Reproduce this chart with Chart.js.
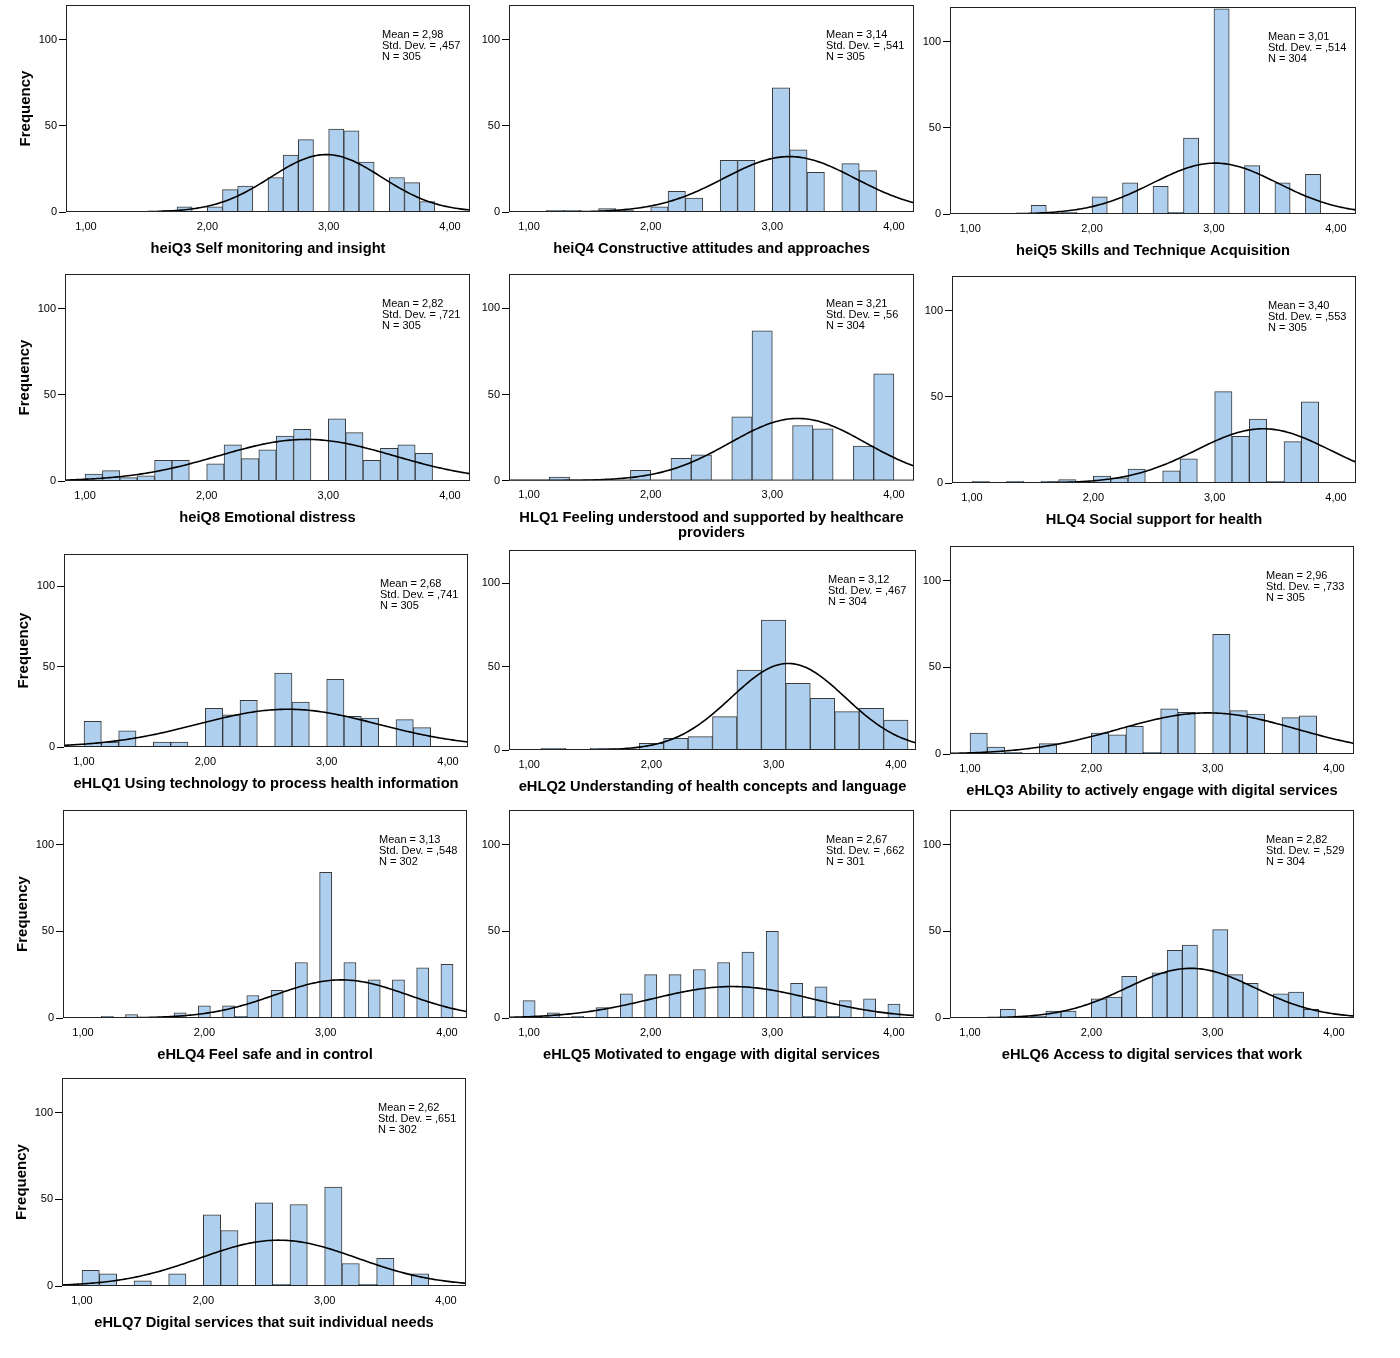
<!DOCTYPE html>
<html>
<head>
<meta charset="utf-8">
<script src="https://cdn.jsdelivr.net/npm/chart.js@4.4.1/dist/chart.umd.min.js"></script>
<style>
  html, body { margin: 0; padding: 0; background: #fff; }
  body { width: 1400px; height: 1358px; position: relative; overflow: hidden; }
  .panel { position: absolute; }
</style>
</head>
<body>
<script>
// Variables shown, one histogram each
const titles = [
  "heiQ3 Self monitoring and insight",
  "heiQ4 Constructive attitudes and approaches",
  "heiQ5 Skills and Technique Acquisition",
  "heiQ8 Emotional distress",
  ["HLQ1 Feeling understood and supported by healthcare", "providers"],
  "HLQ4 Social support for health",
  "eHLQ1 Using technology to process health information",
  "eHLQ2 Understanding of health concepts and language",
  "eHLQ3 Ability to actively engage with digital services",
  "eHLQ4 Feel safe and in control",
  "eHLQ5 Motivated to engage with digital services",
  "eHLQ6 Access to digital services that work",
  "eHLQ7 Digital services that suit individual needs"
];

// Descriptives printed in each panel
const means   = [2.98, 3.14, 3.01, 2.82, 3.21, 3.40, 2.68, 3.12, 2.96, 3.13, 2.67, 2.82, 2.62];
const stdDevs = [0.457, 0.541, 0.514, 0.721, 0.56, 0.553, 0.741, 0.467, 0.733, 0.548, 0.662, 0.529, 0.651];
const ns      = [305, 305, 304, 305, 304, 305, 305, 304, 305, 302, 301, 304, 302];

// Histogram bins: left edge of the first bin and bin width
const binStarts = [1.625, 1.142857, 1.5, 1.0, 1.166667, 1.0, 1.0, 1.1, 1.0, 1.15, 0.95, 1.25, 1.0];
const binWidths = [1/8, 1/7, 1/8, 1/7, 1/6, 1/7, 1/7, 0.2, 1/7, 0.1, 0.1, 1/8, 1/7];

// Frequencies per bin
const heiQ3Counts = [1, 3, 0, 3, 13, 15, 0, 20, 33, 42, 0, 48, 47, 29, 0, 20, 17, 6];
const heiQ4Counts = [1, 1, 0, 2, 1, 0, 3, 12, 8, 0, 30, 30, 0, 72, 36, 23, 0, 28, 24];
const heiQ5Counts = [5, 0, 1, 0, 10, 0, 18, 0, 16, 1, 44, 0, 119, 0, 28, 0, 18, 0, 23];
const heiQ8Counts = [4, 6, 2, 3, 12, 12, 0, 10, 21, 13, 18, 26, 30, 0, 36, 28, 12, 19, 21, 16];
const hlq1Counts  = [2, 0, 0, 0, 6, 0, 13, 15, 0, 37, 87, 0, 32, 30, 0, 20, 62];
const hlq4Counts  = [1, 0, 1, 0, 1, 2, 0, 4, 3, 8, 0, 7, 14, 0, 53, 27, 37, 1, 24, 47];
const ehlq1Counts = [16, 3, 10, 0, 3, 3, 0, 24, 20, 29, 0, 46, 28, 0, 42, 19, 18, 0, 17, 12];
const ehlq2Counts = [1, 0, 1, 0, 4, 7, 8, 20, 48, 78, 40, 31, 23, 25, 18];
const ehlq3Counts = [12, 4, 1, 0, 6, 0, 0, 12, 11, 16, 1, 26, 24, 0, 69, 25, 23, 0, 21, 22];
const ehlq4Counts = [1, 0, 2, 0, 0, 0, 3, 0, 7, 0, 7, 1, 13, 0, 16, 0, 32, 0, 84, 0, 32, 0, 22, 0, 22, 0, 29, 0, 31];
const ehlq5Counts = [10, 0, 3, 0, 1, 0, 6, 0, 14, 0, 25, 0, 25, 0, 28, 0, 32, 0, 38, 0, 50, 0, 20, 1, 18, 1, 10, 0, 11, 0, 8];
const ehlq6Counts = [5, 0, 1, 4, 4, 0, 11, 12, 24, 0, 26, 39, 42, 0, 51, 25, 20, 0, 14, 15, 5];
const ehlq7Counts = [9, 7, 0, 3, 0, 7, 0, 41, 32, 0, 48, 1, 47, 0, 57, 13, 1, 16, 0, 7];

const allCounts = [heiQ3Counts, heiQ4Counts, heiQ5Counts, heiQ8Counts, hlq1Counts, hlq4Counts,
  ehlq1Counts, ehlq2Counts, ehlq3Counts, ehlq4Counts, ehlq5Counts, ehlq6Counts, ehlq7Counts];

const xTicks = [1, 2, 3, 4];
const yTicks = [0, 50, 100];
const X_MIN = 0.835, X_MAX = 4.165, Y_MAX = 120;

// Layout: plot frame of every panel on the page [left, top, right, bottom]
const frames = [
  [66, 5, 470, 212], [509, 5, 914, 212], [950, 7, 1356, 214],
  [65, 274, 470, 481], [509, 274, 914, 481], [952, 276, 1356, 483],
  [64, 554, 468, 747], [509, 550, 916, 750], [950, 546, 1354, 754],
  [63, 810, 467, 1018], [509, 810, 914, 1018], [950, 810, 1354, 1018],
  [62, 1078, 466, 1286]
];

const AXIS_W = 60, PAD_T = 5, PAD_R = 6, AXIS_H = 52, TITLE_LH = 15.4;
const FONT = '"Liberation Sans", Arial, sans-serif';

Chart.defaults.font.family = FONT;
Chart.defaults.color = "#000";

function fmtMean(v) { return v.toFixed(2).replace(".", ","); }
function fmtSd(v) { return String(v).replace(/^0\./, ","); }

// fitted normal curve from the printed mean / sd / N, scaled to bin width
function normalCurve(mean, sd, n, width) {
  const pts = [];
  for (let k = 0; k <= 200; k++) {
    const x = X_MIN + (X_MAX - X_MIN) * k / 200;
    const z = (x - mean) / sd;
    pts.push({ x: x, y: n * width * Math.exp(-0.5 * z * z) / (sd * Math.sqrt(2 * Math.PI)) });
  }
  return pts;
}

const framePlugin = {
  id: "frameAndStats",
  afterDatasetsDraw(chart, args, opts) {
    const { ctx, chartArea: a } = chart;
    ctx.save();
    ctx.strokeStyle = "#222";
    ctx.lineWidth = 1;
    ctx.strokeRect(a.left + 0.5, a.top + 0.5, a.right - a.left - 1, a.bottom - a.top - 1);
    ctx.fillStyle = "#000";
    ctx.font = "11px " + FONT;
    ctx.textBaseline = "middle";
    opts.lines.forEach((t, k) => ctx.fillText(t, a.right - 88, a.top + 30 + k * 11));
    ctx.restore();
  }
};

frames.forEach((f, i) => {
  const [x0, y0, x1, y1] = f;
  const title = titles[i];
  const extra = Array.isArray(title) ? (title.length - 1) * TITLE_LH : 0;
  const axisH = AXIS_H + extra;
  const w = AXIS_W + (x1 - x0) + PAD_R;
  const h = PAD_T + (y1 - y0) + axisH;

  const div = document.createElement("div");
  div.className = "panel";
  div.style.left = (x0 - AXIS_W) + "px";
  div.style.top = (y0 - PAD_T) + "px";
  div.style.width = w + "px";
  div.style.height = h + "px";
  const canvas = document.createElement("canvas");
  canvas.width = w;
  canvas.height = h;
  canvas.style.width = w + "px";
  canvas.style.height = h + "px";
  div.appendChild(canvas);
  document.body.appendChild(div);

  const start = binStarts[i], bw = binWidths[i];
  const bars = allCounts[i].map((c, k) => ({ x: start + (k + 0.5) * bw, y: c > 0 ? c : null }));
  const firstCol = i % 3 === 0;

  new Chart(canvas, {
    type: "bar",
    data: {
      datasets: [
        {
          type: "line",
          data: normalCurve(means[i], stdDevs[i], ns[i], bw),
          borderColor: "#000",
          borderWidth: 1.6,
          pointRadius: 0,
          tension: 0,
          fill: false,
          order: 0
        },
        {
          type: "bar",
          data: bars,
          backgroundColor: "#aecfee",
          borderColor: "#3a3a3a",
          borderWidth: 1,
          barPercentage: 1,
          categoryPercentage: 1,
          order: 1
        }
      ]
    },
    options: {
      responsive: false,
      animation: false,
      devicePixelRatio: 1,
      layout: { autoPadding: false, padding: { top: PAD_T, right: PAD_R, left: 0, bottom: 0 } },
      plugins: {
        legend: { display: false },
        tooltip: { enabled: false },
        frameAndStats: {
          lines: ["Mean = " + fmtMean(means[i]), "Std. Dev. = " + fmtSd(stdDevs[i]), "N = " + ns[i]]
        }
      },
      scales: {
        x: {
          type: "linear",
          min: X_MIN,
          max: X_MAX,
          offset: false,
          grid: { display: false, drawTicks: false, offset: false },
          border: { display: false },
          afterBuildTicks: (axis) => { axis.ticks = xTicks.map(v => ({ value: v })); },
          afterFit: (axis) => {
            axis.height = axisH;
            axis.paddingLeft = 0; axis.paddingRight = 0;
            axis.paddingTop = 0; axis.paddingBottom = 0;
          },
          ticks: {
            autoSkip: false,
            maxRotation: 0,
            padding: 8,
            font: { size: 11 },
            callback: (v) => v.toFixed(2).replace(".", ",")
          },
          title: {
            display: true,
            text: title,
            font: { size: 14.7, weight: "bold", lineHeight: 1.05 },
            padding: { top: 0, bottom: 7 }
          }
        },
        y: {
          min: 0,
          max: Y_MAX,
          grid: { display: true, drawOnChartArea: false, drawTicks: true, tickLength: 7, color: "#000" },
          border: { display: false },
          afterBuildTicks: (axis) => { axis.ticks = yTicks.map(v => ({ value: v })); },
          afterFit: (axis) => {
            axis.width = AXIS_W;
            axis.paddingTop = 0; axis.paddingBottom = 0;
            axis.paddingLeft = 0; axis.paddingRight = 0;
          },
          ticks: { padding: 2, font: { size: 11 } },
          title: {
            display: firstCol,
            text: "Frequency",
            font: { size: 15, weight: "bold" },
            padding: { top: 11, bottom: 0 }
          }
        }
      }
    },
    plugins: [framePlugin]
  });
});
</script>
</body>
</html>
